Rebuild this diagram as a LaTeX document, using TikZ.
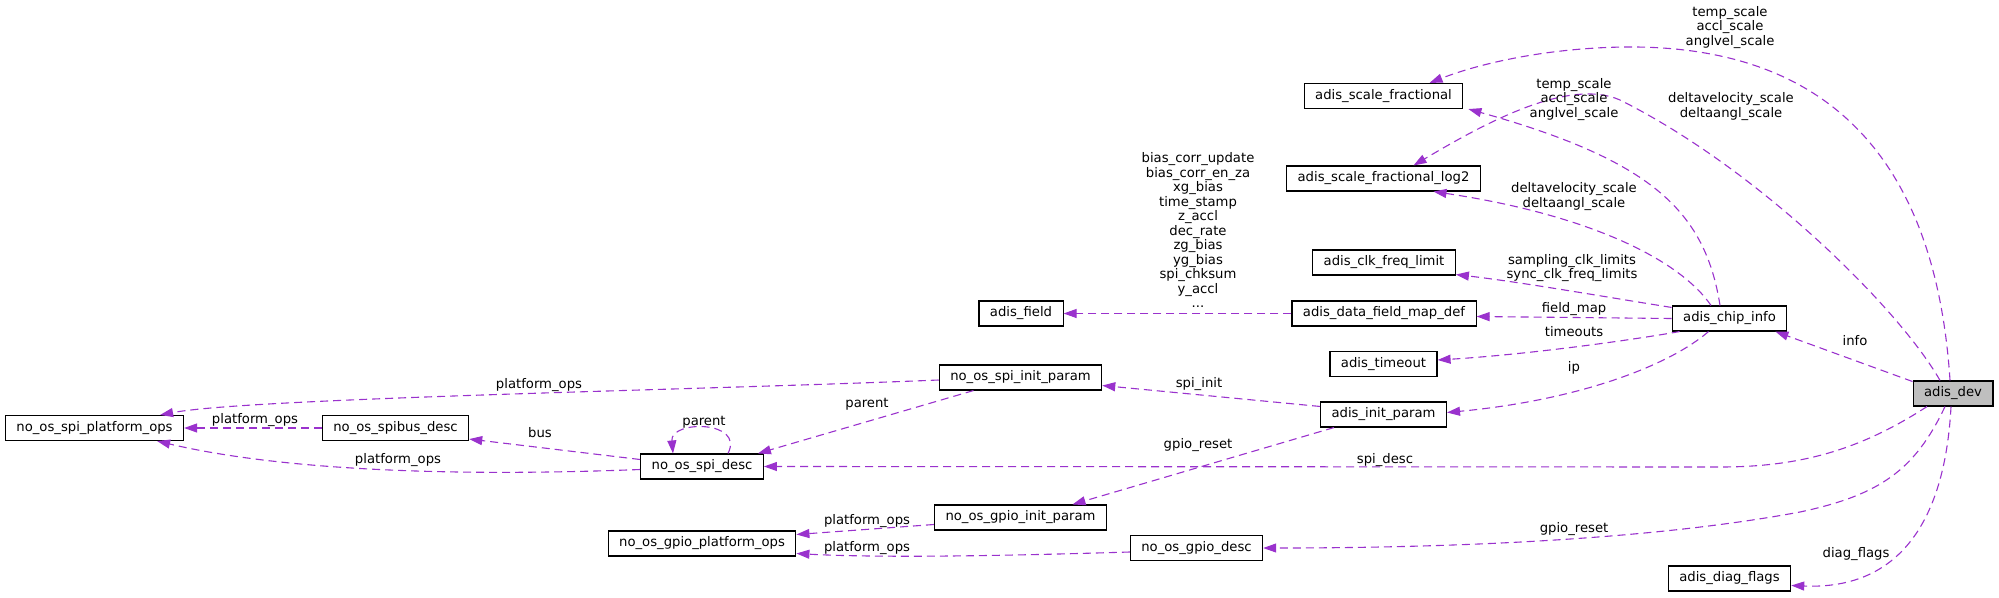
\documentclass[tikz,border=0pt]{standalone}
\usepackage{fontspec}
\setmainfont{DejaVu Sans}
\usetikzlibrary{calc}
\usetikzlibrary{arrows.meta}
\definecolor{membcol}{HTML}{9A32CD}
\definecolor{devfill}{HTML}{BFBFBF}
\newcommand{\lfont}{\fontsize{13.2}{14.5}\selectfont}

\begin{document}
\begin{tikzpicture}[x=1pt,y=-1pt,inner sep=0pt,
  box/.style={draw=black,line width=1.1pt,fill=white,font=\lfont,minimum height=25pt,inner xsep=11pt},
  lbl/.style={font=\lfont,align=center},
  memb/.style={draw=membcol,line width=1.1pt,dash pattern=on 8pt off 5pt,-{Triangle[length=13pt,width=9pt]}}]
\useasboundingbox (0,0) rectangle (1999,597);

\node[box] (spiops) at (94.5, 428) {no\_os\_spi\_platform\_ops};
\node[box] (spibus) at (395.5, 428) {no\_os\_spibus\_desc};
\node[box] (spidesc) at (702, 466.5) {no\_os\_spi\_desc};
\node[box] (gpioops) at (702, 543.5) {no\_os\_gpio\_platform\_ops};
\node[box] (spiinit) at (1020.5, 377.5) {no\_os\_spi\_init\_param};
\node[box] (gpioinit) at (1020.5, 517.5) {no\_os\_gpio\_init\_param};
\node[box] (fld) at (1021, 313.5) {adis\_field};
\node[box] (fmap) at (1384, 313.5) {adis\_data\_field\_map\_def};
\node[box] (tmo) at (1383.5, 364) {adis\_timeout};
\node[box] (init) at (1383.5, 414.5) {adis\_init\_param};
\node[box] (gpiodesc) at (1196.5, 548) {no\_os\_gpio\_desc};
\node[box] (sfrac) at (1383.5, 96) {adis\_scale\_fractional};
\node[box] (slog) at (1383.5, 178.5) {adis\_scale\_fractional\_log2};
\node[box] (clk) at (1384, 262.5) {adis\_clk\_freq\_limit};
\node[box] (chip) at (1729.5, 318.5) {adis\_chip\_info};
\node[box,fill=devfill] (dev) at (1953, 393.5) {adis\_dev};
\node[box] (diag) at (1729.5, 578.5) {adis\_diag\_flags};

\draw[memb] ($(dev.north)+(-3,0)$) .. controls (1935,150) and (1820,45) .. (1625,47) .. controls (1545,48) and (1478,64) .. ($(sfrac.north)+(46,0)$);
\draw[memb] ($(dev.north)+(-13,0)$) .. controls (1900,310) and (1760,170) .. (1620,100) .. controls (1570,78) and (1490,120) .. ($(slog.north)+(30,0)$);
\draw[memb] ($(chip.north)+(-9.5,0)$) .. controls (1705,210) and (1650,160) .. ($(sfrac.south east)+(5,0)$);
\draw[memb] ($(chip.north)+(-18.5,0)$) .. controls (1680,260) and (1590,215) .. ($(slog.south)+(50,0)$);
\draw[memb] ($(chip.north west)+(0,2)$) .. controls (1600,296) and (1520,282) .. ($(clk.south east)+(0,-1)$);
\draw[memb] (chip.west) -- ($(fmap.east)+(0,3)$);
\draw[memb] ($(chip.south west)+(8,0)$) .. controls (1620,342) and (1520,355) .. ($(tmo.east)+(0,-4)$);
\draw[memb] ($(chip.south)+(-21,0)$) .. controls (1670,365) and (1580,400) .. ($(init.east)+(0,-2)$);
\draw[memb] ($(dev.west)+(0,-12)$) -- ($(chip.south east)+(-12,0)$);
\draw[memb] ($(dev.south)+(-26,0)$) .. controls (1860,450) and (1800,467) .. (1720,467) -- (spidesc.east);
\draw[memb] ($(dev.south)+(-8,0)$) .. controls (1915,470) and (1880,495) .. (1800,512) .. controls (1650,540) and (1450,548) .. (gpiodesc.east);
\draw[memb] ($(dev.south)+(-2,0)$) .. controls (1945,520) and (1900,590) .. ($(diag.east)+(0,7)$);
\draw[memb] (fmap.west) -- (fld.east);
\draw[memb] ($(init.north west)+(0,5)$) -- ($(spiinit.east)+(0,8)$);
\draw[memb] ($(init.south west)+(14,0)$) -- ($(gpioinit.north)+(52,0)$);
\draw[memb] ($(spiinit.south)+(-47,0)$) -- ($(spidesc.north east)+(-6,0)$);
\draw[memb] ($(spidesc.north)+(26,0)$) .. controls (745,420) and (670,420) .. ($(spidesc.north)+(-29,0)$);
\draw[memb] ($(spiinit.west)+(0,2.5)$) .. controls (700,390) and (250,398) .. ($(spiops.north east)+(-24,0)$);
\draw[memb] (spibus.west) -- (spiops.east);
\draw[memb] ($(spidesc.west)+(0,-7)$) -- ($(spibus.south east)+(0,-2)$);
\draw[memb] ($(spidesc.west)+(0,3)$) .. controls (450,477) and (280,470) .. ($(spiops.south east)+(-27,0)$);
\draw[memb] ($(gpioinit.west)+(0,7)$) -- ($(gpioops.east)+(0,-9)$);
\draw[memb] ($(gpiodesc.west)+(0,4)$) .. controls (1000,556) and (880,558) .. ($(gpioops.east)+(0,10)$);

\node[lbl,anchor=north] (l1) at (1730, 6) {temp\_scale\\accl\_scale\\anglvel\_scale};
\node[lbl,anchor=north] (l2) at (1574, 78) {temp\_scale\\accl\_scale\\anglvel\_scale};
\node[lbl,anchor=north] (l3) at (1731, 92.7) {deltavelocity\_scale\\deltaangl\_scale};
\node[lbl,anchor=north] (l4) at (1574, 182.7) {deltavelocity\_scale\\deltaangl\_scale};
\node[lbl,anchor=north] (l5) at (1572, 254) {sampling\_clk\_limits\\sync\_clk\_freq\_limits};
\node[lbl,anchor=north] (l6) at (1198, 152.7) {bias\_corr\_update\\bias\_corr\_en\_za\\xg\_bias\\time\_stamp\\z\_accl\\dec\_rate\\zg\_bias\\yg\_bias\\spi\_chksum\\y\_accl\\...};
\node[lbl,anchor=base] (l7) at (1574, 312.5) {field\_map};
\node[lbl,anchor=base] (l8) at (1574, 336) {timeouts};
\node[lbl,anchor=base] (l9) at (1574, 371) {ip};
\node[lbl,anchor=base] (l10) at (1855, 345) {info};
\node[lbl,anchor=base] (l11) at (1385, 463) {spi\_desc};
\node[lbl,anchor=base] (l12) at (1574, 532.5) {gpio\_reset};
\node[lbl,anchor=base] (l13) at (1856, 557) {diag\_flags};
\node[lbl,anchor=base] (l14) at (1199, 387.5) {spi\_init};
\node[lbl,anchor=base] (l15) at (1198, 448) {gpio\_reset};
\node[lbl,anchor=base] (l16) at (867, 407.5) {parent};
\node[lbl,anchor=base] (l17) at (704, 425.5) {parent};
\node[lbl,anchor=base] (l18) at (540, 437.5) {bus};
\node[lbl,anchor=base] (l19) at (539, 388.5) {platform\_ops};
\node[lbl,anchor=base] (l20) at (255, 423.5) {platform\_ops};
\node[lbl,anchor=base] (l21) at (398, 463.5) {platform\_ops};
\node[lbl,anchor=base] (l22) at (867, 524.5) {platform\_ops};
\node[lbl,anchor=base] (l23) at (867, 551) {platform\_ops};
\end{tikzpicture}
\end{document}
